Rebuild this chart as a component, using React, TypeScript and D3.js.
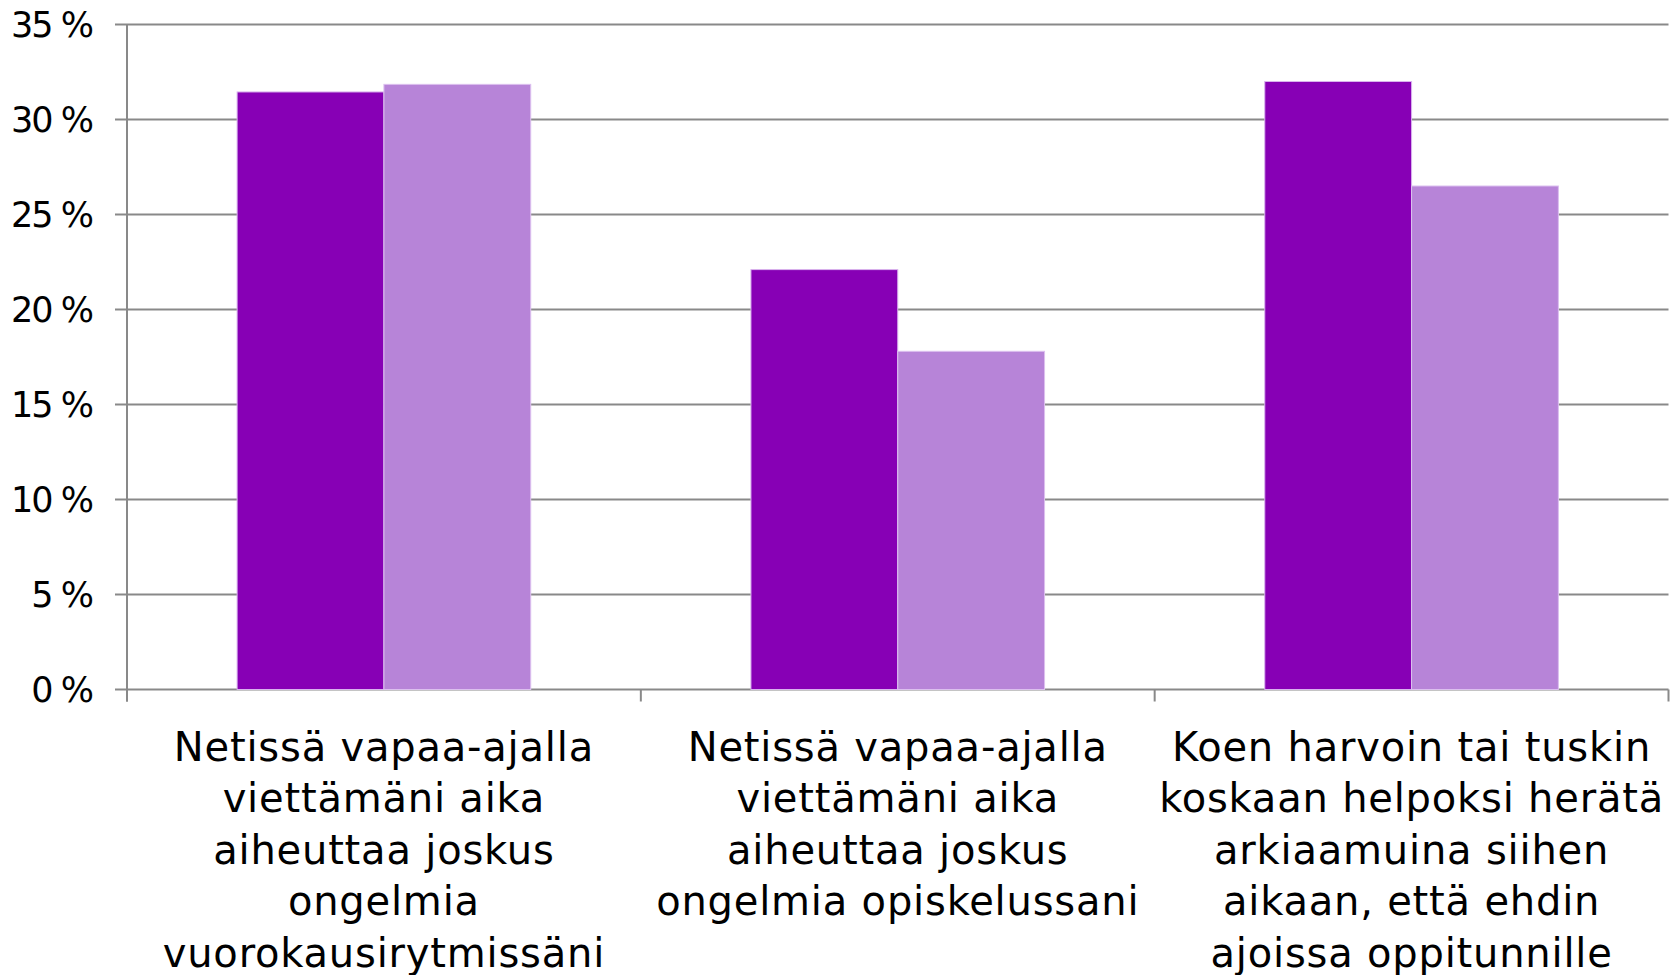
import React from "react";
import * as d3 from "d3";

const categories: string[][] = [
  ["Netissä vapaa-ajalla", "viettämäni aika", "aiheuttaa joskus", "ongelmia", "vuorokausirytmissäni"],
  ["Netissä vapaa-ajalla", "viettämäni aika", "aiheuttaa joskus", "ongelmia opiskelussani"],
  ["Koen harvoin tai tuskin", "koskaan helpoksi herätä", "arkiaamuina siihen", "aikaan, että ehdin", "ajoissa oppitunnille"],
];
const seriesA: number[] = [31.45, 22.1, 32.0];
const seriesB: number[] = [31.85, 17.8, 26.5];
const yTicks: number[] = [0, 5, 10, 15, 20, 25, 30, 35];

const W = 1675;
const H = 975;
const left = 127;
const right = 1668.5;
const top = 24.5;
const bottom = 689.5;
const FONT = "'DejaVu Sans', sans-serif";
const darkColor = "#8700b5";
const lightColor = "#b784d8";
const gridColor = "#898989";

export default function App() {
  const idx = categories.map((_, i) => String(i));
  const x0 = d3.scaleBand<string>().domain(idx).range([left, right]).paddingInner(0).paddingOuter(0);
  const step = x0.bandwidth();
  const barW = step / 3.5;
  const x1 = d3
    .scaleBand<string>()
    .domain(["a", "b"])
    .range([step / 2 - barW, step / 2 + barW])
    .padding(0);
  const y = d3.scaleLinear().domain([0, 35]).range([bottom, top]);

  const xTickPositions = d3.range(categories.length + 1).map((i) => left + i * step);

  return (
    <svg
      width={W}
      height={H}
      style={{ position: "absolute", left: 0, top: 0, background: "#fff" }}
      fontFamily={FONT}
    >
      {/* gridlines */}
      {yTicks.map((t) => (
        <line key={"g" + t} x1={left - 12} x2={right} y1={y(t)} y2={y(t)} stroke={gridColor} strokeWidth={2} />
      ))}
      {/* y axis */}
      <line x1={left} x2={left} y1={top} y2={bottom + 12} stroke={gridColor} strokeWidth={2} />
      {/* x ticks */}
      {xTickPositions.map((xp, i) => (
        <line key={"xt" + i} x1={xp} x2={xp} y1={bottom} y2={bottom + 12} stroke={gridColor} strokeWidth={2} />
      ))}
      {/* bars */}
      {categories.map((_, i) => {
        const gx = x0(String(i)) as number;
        return (
          <g key={"bar" + i}>
            <rect
              x={gx + (x1("a") as number)}
              y={y(seriesA[i])}
              width={x1.bandwidth()}
              height={y(0) - y(seriesA[i])}
              fill={darkColor}
              stroke="#d9b3ee"
              strokeWidth={1}
            />
            <rect
              x={gx + (x1("b") as number)}
              y={y(seriesB[i])}
              width={x1.bandwidth()}
              height={y(0) - y(seriesB[i])}
              fill={lightColor}
              stroke="#dcc0ef"
              strokeWidth={1}
            />
          </g>
        );
      })}
      {/* y tick labels */}
      {yTicks.map((t) => (
        <text
          key={"yl" + t}
          x={92}
          y={y(t)}
          dy="0.36em"
          textAnchor="end"
          fontSize={35}
          letterSpacing={-2}
          fill="#000"
        >
          {t + " %"}
        </text>
      ))}
      {/* category labels */}
      {categories.map((lines, i) => {
        const cx = (x0(String(i)) as number) + step / 2;
        return (
          <text key={"cl" + i} x={cx} textAnchor="middle" fontSize={40} letterSpacing={0.8} fill="#000">
            {lines.map((ln, j) => (
              <tspan key={j} x={cx} y={760.5 + j * 51.6}>
                {ln}
              </tspan>
            ))}
          </text>
        );
      })}
    </svg>
  );
}
